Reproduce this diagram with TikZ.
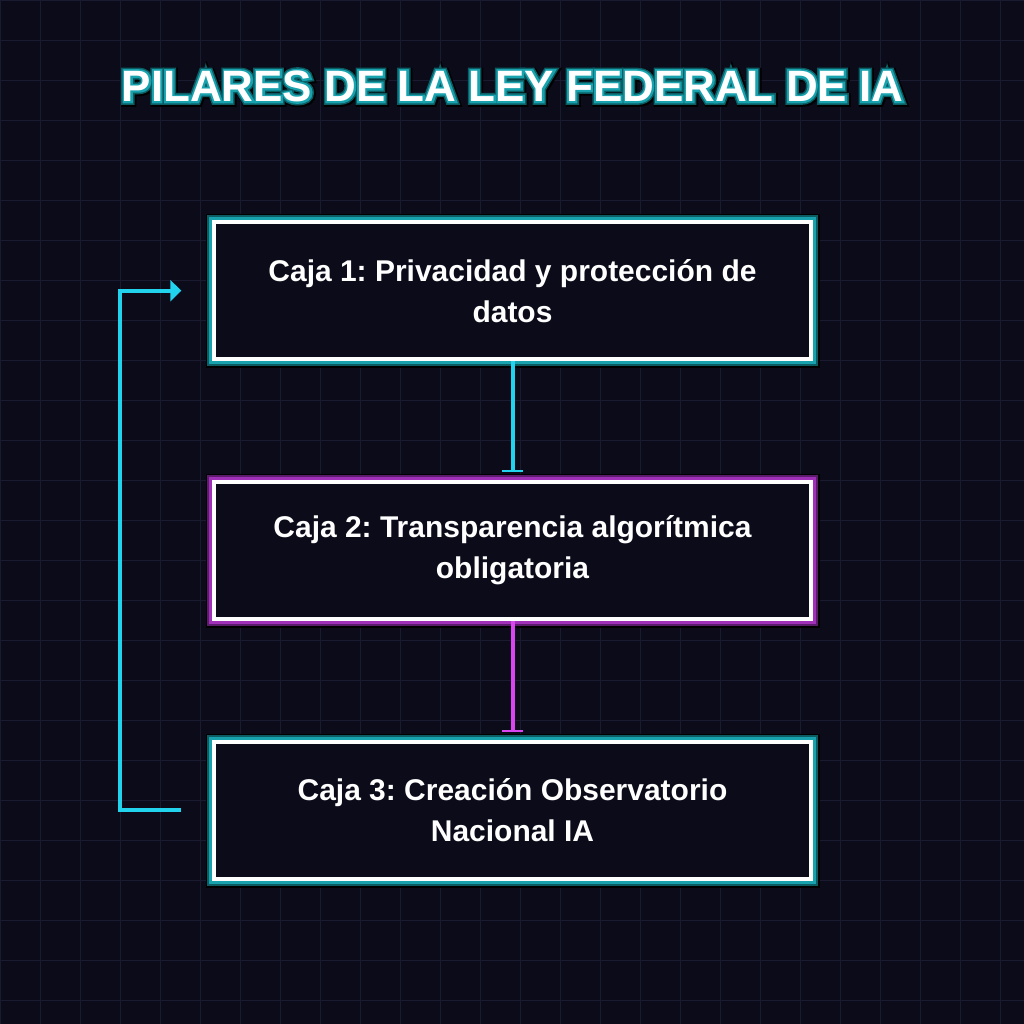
\documentclass[tikz,border=0pt]{standalone}
\usepackage{fontspec}
\setmainfont{Liberation Sans}
\newfontfamily\glowK[FakeBold=20]{Liberation Sans Bold}
\newfontfamily\glowB[FakeBold=16]{Liberation Sans Bold}
\newfontfamily\glowA[FakeBold=9]{Liberation Sans Bold}
\usetikzlibrary{arrows.meta,calc}
\definecolor{bg}{HTML}{0B0B1A}
\definecolor{gridc}{HTML}{1A1A30}
\definecolor{cyanl}{HTML}{22D3EE}
\definecolor{tealA}{HTML}{17A2AE}
\definecolor{tealB}{HTML}{0C5C64}
\definecolor{magl}{HTML}{D946EF}
\definecolor{magA}{HTML}{A030B8}
\definecolor{magB}{HTML}{5C1C6C}
\pgfdeclarelayer{canvas}
\pgfdeclarelayer{background}
\pgfsetlayers{canvas,background,main}
\tikzset{
  pillar/.style={draw=white, line width=4pt, fill=bg, outer sep=0pt,
    minimum width=597pt, minimum height=137pt, text=white, align=center,
    font=\frenchspacing\bfseries\fontsize{30}{41}\selectfont},
  conn/.style={line width=4pt},
  titlebase/.style={anchor=base, inner sep=0pt},
  titlefont/.style={titlebase, font=\frenchspacing\bfseries\fontsize{44}{50}\selectfont}
}
\newcommand\glowlayers[3]{%
  \fill[black] ([xshift=-8pt,yshift=8pt]#1.north west) rectangle ([xshift=9pt,yshift=-9pt]#1.south east);
  \fill[#3] ([xshift=-7pt,yshift=7pt]#1.north west) rectangle ([xshift=7pt,yshift=-7pt]#1.south east);
  \fill[#2] ([xshift=-5pt,yshift=5pt]#1.north west) rectangle ([xshift=5pt,yshift=-5pt]#1.south east);
}
\newcommand\titletext{PILARES DE LA LEY FEDERAL DE IA}
\begin{document}
\begin{tikzpicture}[x=1pt,y=-1pt]
\begin{pgfonlayer}{canvas}
\fill[bg] (0,0) rectangle (1024,1024);
\foreach \g in {0,40,...,1000}{
  \draw[gridc, line width=1pt] (\g+0.5,0) -- (\g+0.5,1024);
  \draw[gridc, line width=1pt] (0,\g+0.5) -- (1024,\g+0.5);
}
\end{pgfonlayer}
\useasboundingbox (0,0) rectangle (1024,1024);
% title with glow
\node[titlebase, text=black, font=\frenchspacing\glowK\fontsize{44}{50}\selectfont] (tk) at (513.5,102) {\titletext};
\node[titlebase, text=tealB, font=\frenchspacing\glowB\fontsize{44}{50}\selectfont] (tb) at (512.5,101) {\titletext};
\node[titlebase, text=tealA, font=\frenchspacing\glowA\fontsize{44}{50}\selectfont] (ta) at (512.5,101) {\titletext};
\node[titlefont, text=white] (title) at (512.5,101) {\titletext};
% boxes
\node[pillar] (b1) at (512.5,290.5) {Caja 1: Privacidad y protección de\\datos};
\node[pillar] (b2) at (512.5,550.5) {Caja 2: Transparencia algorítmica\\obligatoria};
\node[pillar] (b3) at (512.5,810.5) {Caja 3: Creación Observatorio\\Nacional IA};
\begin{pgfonlayer}{background}
\glowlayers{b1}{tealA}{tealB}
\glowlayers{b2}{magA}{magB}
\glowlayers{b3}{tealA}{tealB}
\end{pgfonlayer}
% connectors
\draw[conn, cyanl, -{Bar[width=21pt,line width=2pt]}] ([yshift=-2pt]b1.south) -- ([yshift=10pt]b2.north);
\draw[conn, magl, -{Bar[width=21pt,line width=2pt]}] ([yshift=-2pt]b2.south) -- ([yshift=10pt]b3.north);
\coordinate (lb) at ([xshift=-33pt]b3.west);
\coordinate (lc) at ([xshift=-94pt]b3.west);
\coordinate (la) at ([xshift=-33pt]b1.west);
\draw[conn, cyanl, -{Triangle[length=11pt,width=21pt]}] (lb) -- (lc) |- (la);
\end{tikzpicture}
\end{document}
